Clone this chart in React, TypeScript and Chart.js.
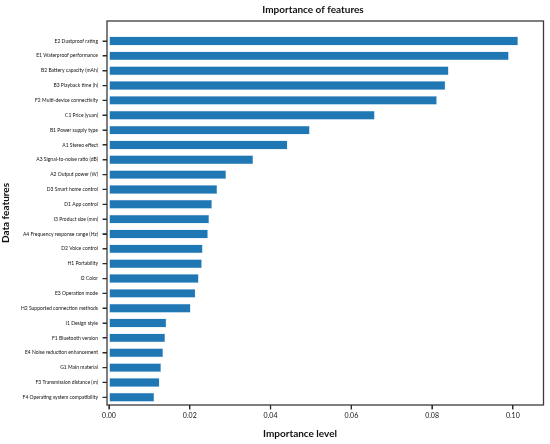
import { useEffect, useRef } from "react";
import { Chart, registerables } from "chart.js";

Chart.register(...registerables);

const categories = [
  "E2 Dustproof rating",
  "E1 Waterproof performance",
  "B2 Battery capacity (mAh)",
  "B3 Playback time (h)",
  "F2 Multi-device connectivity",
  "C1 Price (yuan)",
  "B1 Power supply type",
  "A1 Stereo effect",
  "A3 Signal-to-noise ratio (dB)",
  "A2 Output power (W)",
  "D3 Smart home control",
  "D1 App control",
  "I3 Product size (mm)",
  "A4 Frequency response range (Hz)",
  "D2 Voice control",
  "H1 Portability",
  "I2 Color",
  "E3 Operation mode",
  "H2 Supported connection methods",
  "I1 Design style",
  "F1 Bluetooth version",
  "E4 Noise reduction enhancement",
  "G1 Main material",
  "F3 Transmission distance (m)",
  "F4 Operating system compatibility",
];

const importance = [
  0.1013, 0.099, 0.0841, 0.0833, 0.0812, 0.0658, 0.0497, 0.0442, 0.0357,
  0.029, 0.0268, 0.0255, 0.0248, 0.0245, 0.0232, 0.023, 0.0222, 0.0214,
  0.0202, 0.0142, 0.0139, 0.0134, 0.0129, 0.0125, 0.0112,
];

const xTickValues = [0, 0.02, 0.04, 0.06, 0.08, 0.1];

const chartTitle = "Importance of features";
const xTitle = "Importance level";
const yTitle = "Data features";

const FONT = "Lato, 'Open Sans', 'DejaVu Sans', sans-serif";

export default function App() {
  const ref = useRef<HTMLCanvasElement>(null);

  useEffect(() => {
    if (!ref.current) return;
    const framePlugin = {
      id: "frameAndTitles",
      afterDraw(chart: any) {
        const { ctx, chartArea: a, scales } = chart;
        ctx.save();
        ctx.strokeStyle = "#3a3a3a";
        ctx.lineWidth = 1.3;
        ctx.strokeRect(a.left, a.top, a.right - a.left, a.bottom - a.top);
        // tick marks, positioned through the library's scales
        ctx.lineWidth = 1.3;
        ctx.strokeStyle = "#2a2a2a";
        ctx.beginPath();
        for (const t of scales.y.ticks) {
          const py = scales.y.getPixelForValue(t.value);
          ctx.moveTo(a.left, py);
          ctx.lineTo(a.left - 4.5, py);
        }
        for (const t of scales.x.ticks) {
          const px = scales.x.getPixelForValue(t.value);
          ctx.moveTo(px, a.bottom);
          ctx.lineTo(px, a.bottom + 4.5);
        }
        ctx.stroke();
        ctx.fillStyle = "#111";
        ctx.font = `bold 10px ${FONT}`;
        ctx.textAlign = "center";
        ctx.textBaseline = "middle";
        ctx.fillText(chartTitle, 313, 9.5);
        ctx.fillText(xTitle, 300, 434);
        ctx.restore();
      },
    };

    const chart = new Chart(ref.current, {
      type: "bar",
      data: {
        datasets: [
          {
            data: importance.map((v, i) => ({ x: v, y: i })),
            backgroundColor: "#1f77b4",
            borderColor: "#a8d0ec",
            borderWidth: 0.5,
            barPercentage: 0.6,
            categoryPercentage: 1,
          } as any,
        ],
      },
      options: {
        indexAxis: "y",
        responsive: false,
        animation: false,
        layout: { padding: { top: 21, right: 6.5, left: 0, bottom: 0 } },
        plugins: { legend: { display: false }, tooltip: { enabled: false } },
        scales: {
          x: {
            type: "linear",
            min: -0.0005,
            max: 0.1076,
            offset: false,
            afterBuildTicks: (s: any) => {
              s.ticks = xTickValues.map((v) => ({ value: v }));
            },
            afterFit: (s: any) => {
              s.height = 39;
            },
            ticks: {
              callback: (v: any) => Number(v).toFixed(2),
              font: { family: FONT, size: 7 },
              color: "#111",
              padding: 3,
              maxRotation: 0,
            },
            grid: {
              display: true,
              drawOnChartArea: false,
              drawTicks: true,
              tickLength: 4,
              tickColor: "#333",
              offset: false,
            },
            border: { display: false },
          },
          y: {
            type: "linear",
            reverse: true,
            min: -1.35,
            max: 24.52,
            offset: false,
            afterBuildTicks: (s: any) => {
              s.ticks = categories.map((_, i) => ({ value: i }));
            },
            afterFit: (s: any) => {
              s.width = 107;
            },
            ticks: {
              callback: (v: any) => categories[v] ?? "",
              font: { family: FONT, size: 5 },
              color: "#111",
              padding: 5,
              autoSkip: false,
            },
            grid: {
              display: true,
              drawOnChartArea: false,
              drawTicks: true,
              tickLength: 4,
              tickColor: "#333",
              offset: false,
            },
            border: { display: false },
            title: {
              display: true,
              text: yTitle,
              font: { family: FONT, size: 10, weight: "bold" },
              color: "#111",
              padding: 0,
            },
          },
        },
      },
      plugins: [framePlugin],
    } as any);

    return () => chart.destroy();
  }, []);

  return (
    <div style={{ position: "absolute", left: 0, top: 0, width: 550, height: 444 }}>
      <canvas ref={ref} width={550} height={444} style={{ width: 550, height: 444 }} />
    </div>
  );
}
